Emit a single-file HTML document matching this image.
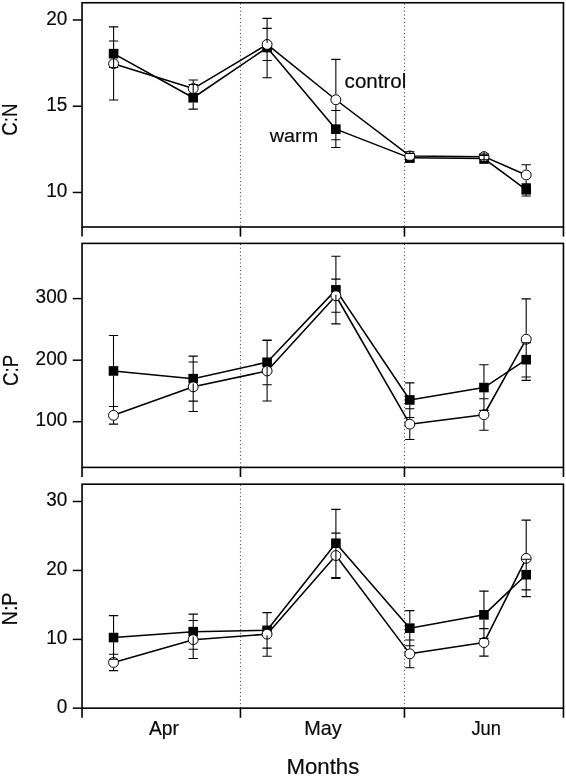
<!DOCTYPE html>
<html lang="en"><head><meta charset="utf-8"><title>Stoichiometry ratios by month</title>
<style>html,body{margin:0;padding:0;background:#fff}body{width:566px;height:776px;overflow:hidden}svg{display:block;will-change:transform}text{font-family:"Liberation Sans",sans-serif;fill:#0a0a0a;stroke:#0a0a0a;stroke-width:0.18px}</style>
</head><body>
<svg width="566" height="776" viewBox="0 0 566 776">
<rect width="566" height="776" fill="#fff"/>
<g>
<line x1="240.45" y1="3.35" x2="240.45" y2="227" stroke="#444" stroke-width="1" stroke-dasharray="1.1 2.6" stroke-dashoffset="0"/>
<line x1="404.45" y1="3.35" x2="404.45" y2="227" stroke="#444" stroke-width="1" stroke-dasharray="1.1 2.6" stroke-dashoffset="0"/>
<rect x="82.05" y="2.75" width="481.4" height="224.25" fill="none" stroke="#000" stroke-width="1.6"/>
<line x1="82.05" y1="227" x2="82.05" y2="236.6" stroke="#000" stroke-width="1.6"/>
<line x1="240.45" y1="227" x2="240.45" y2="236.6" stroke="#000" stroke-width="1.6"/>
<line x1="404.45" y1="227" x2="404.45" y2="236.6" stroke="#000" stroke-width="1.6"/>
<line x1="563.45" y1="227" x2="563.45" y2="236.6" stroke="#000" stroke-width="1.6"/>
<line x1="72.75" y1="19.98" x2="82.05" y2="19.98" stroke="#000" stroke-width="1.5"/>
<text x="67.3" y="24.73" font-size="19.6" text-anchor="end" transform="translate(67.3 0) scale(0.97 1) translate(-67.3 0)">20</text>
<line x1="72.75" y1="106.22" x2="82.05" y2="106.22" stroke="#000" stroke-width="1.5"/>
<text x="67.3" y="110.97" font-size="19.6" text-anchor="end" transform="translate(67.3 0) scale(0.97 1) translate(-67.3 0)">15</text>
<line x1="72.75" y1="192.46" x2="82.05" y2="192.46" stroke="#000" stroke-width="1.5"/>
<text x="67.3" y="197.21" font-size="19.6" text-anchor="end" transform="translate(67.3 0) scale(0.97 1) translate(-67.3 0)">10</text>
<polyline fill="none" stroke="#000" stroke-width="1.55" stroke-linejoin="round" points="113.6,53.65 193.2,97.75 267.1,47.55 335.85,129.15 409.8,157.85 484.05,158.55 526.2,189.8"/>
<polyline fill="none" stroke="#000" stroke-width="1.55" stroke-linejoin="round" points="113.6,63.7 193.2,88.55 267.1,44.45 335.85,99.75 409.8,155.95 484.05,156.65 526.2,174.95"/>
<rect x="108.8" y="48.85" width="9.6" height="9.6" fill="#000"/>
<rect x="188.4" y="92.95" width="9.6" height="9.6" fill="#000"/>
<rect x="262.3" y="42.75" width="9.6" height="9.6" fill="#000"/>
<rect x="331.05" y="124.35" width="9.6" height="9.6" fill="#000"/>
<rect x="405" y="153.05" width="9.6" height="9.6" fill="#000"/>
<rect x="479.25" y="153.75" width="9.6" height="9.6" fill="#000"/>
<rect x="521.4" y="185" width="9.6" height="9.6" fill="#000"/>
<circle cx="113.6" cy="63.7" r="4.95" fill="#fff" stroke="#000" stroke-width="1"/>
<circle cx="193.2" cy="88.55" r="4.95" fill="#fff" stroke="#000" stroke-width="1"/>
<circle cx="267.1" cy="44.45" r="4.95" fill="#fff" stroke="#000" stroke-width="1"/>
<circle cx="335.85" cy="99.75" r="4.95" fill="#fff" stroke="#000" stroke-width="1"/>
<circle cx="409.8" cy="155.95" r="4.95" fill="#fff" stroke="#000" stroke-width="1"/>
<circle cx="484.05" cy="156.65" r="4.95" fill="#fff" stroke="#000" stroke-width="1"/>
<circle cx="526.2" cy="174.95" r="4.95" fill="#fff" stroke="#000" stroke-width="1"/>
<path d="M113.6 48.85V41.05M113.6 58.45V67.55M108.95 41.05H118.25M108.95 67.55H118.25M113.6 58.25V26.85M113.6 69.15V99.95M108.95 26.85H118.25M108.95 99.95H118.25M193.2 92.95V84.45M193.2 102.55V109.15M188.55 84.45H197.85M188.55 109.15H197.85M193.2 83.1V79.95M193.2 94V97.15M188.55 79.95H197.85M188.55 97.15H197.85M267.1 42.75V18.35M267.1 52.35V77.75M262.45 18.35H271.75M262.45 77.75H271.75M267.1 39V28.35M267.1 49.9V60.45M262.45 28.35H271.75M262.45 60.45H271.75M335.85 124.35V110.45M335.85 133.95V147.55M331.2 110.45H340.5M331.2 147.55H340.5M335.85 94.3V59.35M335.85 105.2V139.75M331.2 59.35H340.5M331.2 139.75H340.5M405.15 153.45H414.45M405.15 162.25H414.45M405.15 151.75H414.45M405.15 160.25H414.45M479.4 155.55H488.7M479.4 163.25H488.7M479.4 154.15H488.7M479.4 159.75H488.7M526.2 185V183.85M526.2 194.6V196.05M521.55 183.85H530.85M521.55 196.05H530.85M526.2 169.5V164.75M526.2 180.4V185.05M521.55 164.75H530.85M521.55 185.05H530.85M484.05 151.6V161.4M409.8 152V154" fill="none" stroke="#000" stroke-width="1.08"/>
<text font-size="21.8" text-anchor="middle" transform="translate(17.3 119.7) rotate(-90) scale(0.86 1)">C:N</text>
</g>
<g>
<line x1="240.45" y1="244" x2="240.45" y2="467.4" stroke="#444" stroke-width="1" stroke-dasharray="1.1 2.6" stroke-dashoffset="0"/>
<line x1="404.45" y1="244" x2="404.45" y2="467.4" stroke="#444" stroke-width="1" stroke-dasharray="1.1 2.6" stroke-dashoffset="0"/>
<rect x="82.05" y="243.4" width="481.4" height="224" fill="none" stroke="#000" stroke-width="1.6"/>
<line x1="82.05" y1="467.4" x2="82.05" y2="477" stroke="#000" stroke-width="1.6"/>
<line x1="240.45" y1="467.4" x2="240.45" y2="477" stroke="#000" stroke-width="1.6"/>
<line x1="404.45" y1="467.4" x2="404.45" y2="477" stroke="#000" stroke-width="1.6"/>
<line x1="563.45" y1="467.4" x2="563.45" y2="477" stroke="#000" stroke-width="1.6"/>
<line x1="72.75" y1="298.6" x2="82.05" y2="298.6" stroke="#000" stroke-width="1.5"/>
<text x="67.3" y="303.35" font-size="19.6" text-anchor="end" transform="translate(67.3 0) scale(0.97 1) translate(-67.3 0)">300</text>
<line x1="72.75" y1="360.2" x2="82.05" y2="360.2" stroke="#000" stroke-width="1.5"/>
<text x="67.3" y="364.95" font-size="19.6" text-anchor="end" transform="translate(67.3 0) scale(0.97 1) translate(-67.3 0)">200</text>
<line x1="72.75" y1="421.7" x2="82.05" y2="421.7" stroke="#000" stroke-width="1.5"/>
<text x="67.3" y="426.45" font-size="19.6" text-anchor="end" transform="translate(67.3 0) scale(0.97 1) translate(-67.3 0)">100</text>
<polyline fill="none" stroke="#000" stroke-width="1.55" stroke-linejoin="round" points="113.5,370.95 193.2,378.65 267.1,362.25 335.9,289.85 409.8,399.95 483.95,387.55 526.2,359.65"/>
<polyline fill="none" stroke="#000" stroke-width="1.55" stroke-linejoin="round" points="113.5,415.35 193.2,386.85 267.1,370.95 335.9,295.75 409.8,424.15 483.95,414.75 526.2,339.25"/>
<rect x="108.7" y="366.15" width="9.6" height="9.6" fill="#000"/>
<rect x="188.4" y="373.85" width="9.6" height="9.6" fill="#000"/>
<rect x="262.3" y="357.45" width="9.6" height="9.6" fill="#000"/>
<rect x="331.1" y="285.05" width="9.6" height="9.6" fill="#000"/>
<rect x="405" y="395.15" width="9.6" height="9.6" fill="#000"/>
<rect x="479.15" y="382.75" width="9.6" height="9.6" fill="#000"/>
<rect x="521.4" y="354.85" width="9.6" height="9.6" fill="#000"/>
<circle cx="113.5" cy="415.35" r="4.95" fill="#fff" stroke="#000" stroke-width="1"/>
<circle cx="193.2" cy="386.85" r="4.95" fill="#fff" stroke="#000" stroke-width="1"/>
<circle cx="267.1" cy="370.95" r="4.95" fill="#fff" stroke="#000" stroke-width="1"/>
<circle cx="335.9" cy="295.75" r="4.95" fill="#fff" stroke="#000" stroke-width="1"/>
<circle cx="409.8" cy="424.15" r="4.95" fill="#fff" stroke="#000" stroke-width="1"/>
<circle cx="483.95" cy="414.75" r="4.95" fill="#fff" stroke="#000" stroke-width="1"/>
<circle cx="526.2" cy="339.25" r="4.95" fill="#fff" stroke="#000" stroke-width="1"/>
<path d="M113.5 366.15V335.45M113.5 375.75V406.55M108.85 335.45H118.15M108.85 406.55H118.15M113.5 409.9V406.55M113.5 420.8V424.15M108.85 406.55H118.15M108.85 424.15H118.15M193.2 373.85V356.15M193.2 383.45V401.15M188.55 356.15H197.85M188.55 401.15H197.85M193.2 381.4V362.05M193.2 392.3V411.55M188.55 362.05H197.85M188.55 411.55H197.85M267.1 357.45V340.15M267.1 367.05V384.75M262.45 340.15H271.75M262.45 384.75H271.75M267.1 365.5V340.55M267.1 376.4V401.05M262.45 340.55H271.75M262.45 401.05H271.75M335.9 285.05V256.25M335.9 294.65V323.9M331.25 256.25H340.55M331.25 323.9H340.55M335.9 290.3V279.15M335.9 301.2V312.3M331.25 279.15H340.55M331.25 312.3H340.55M409.8 395.15V382.85M409.8 404.75V417.45M405.15 382.85H414.45M405.15 417.45H414.45M409.8 418.7V408.75M409.8 429.6V439.5M405.15 408.75H414.45M405.15 439.5H414.45M483.95 382.75V364.75M483.95 392.35V410.35M479.3 364.75H488.6M479.3 410.35H488.6M483.95 409.3V398.75M483.95 420.2V430.3M479.3 398.75H488.6M479.3 430.3H488.6M526.2 354.85V342.75M526.2 364.45V376.95M521.55 342.75H530.85M521.55 376.95H530.85M526.2 333.8V298.85M526.2 344.7V380.35M521.55 298.85H530.85M521.55 380.35H530.85" fill="none" stroke="#000" stroke-width="1.08"/>
<text font-size="21.8" text-anchor="middle" transform="translate(18 370.4) rotate(-90) scale(0.86 1)">C:P</text>
</g>
<g>
<line x1="240.45" y1="484.8" x2="240.45" y2="708.15" stroke="#444" stroke-width="1" stroke-dasharray="1.1 2.6" stroke-dashoffset="0"/>
<line x1="404.45" y1="484.8" x2="404.45" y2="708.15" stroke="#444" stroke-width="1" stroke-dasharray="1.1 2.6" stroke-dashoffset="0"/>
<rect x="82.05" y="484.2" width="481.4" height="223.95" fill="none" stroke="#000" stroke-width="1.6"/>
<line x1="82.05" y1="708.15" x2="82.05" y2="717.75" stroke="#000" stroke-width="1.6"/>
<line x1="240.45" y1="708.15" x2="240.45" y2="717.75" stroke="#000" stroke-width="1.6"/>
<line x1="404.45" y1="708.15" x2="404.45" y2="717.75" stroke="#000" stroke-width="1.6"/>
<line x1="563.45" y1="708.15" x2="563.45" y2="717.75" stroke="#000" stroke-width="1.6"/>
<line x1="72.75" y1="501.5" x2="82.05" y2="501.5" stroke="#000" stroke-width="1.5"/>
<text x="67.3" y="506.25" font-size="19.6" text-anchor="end" transform="translate(67.3 0) scale(0.97 1) translate(-67.3 0)">30</text>
<line x1="72.75" y1="570.45" x2="82.05" y2="570.45" stroke="#000" stroke-width="1.5"/>
<text x="67.3" y="575.2" font-size="19.6" text-anchor="end" transform="translate(67.3 0) scale(0.97 1) translate(-67.3 0)">20</text>
<line x1="72.75" y1="639.4" x2="82.05" y2="639.4" stroke="#000" stroke-width="1.5"/>
<text x="67.3" y="644.15" font-size="19.6" text-anchor="end" transform="translate(67.3 0) scale(0.97 1) translate(-67.3 0)">10</text>
<line x1="72.75" y1="708.15" x2="82.05" y2="708.15" stroke="#000" stroke-width="1.5"/>
<text x="67.3" y="712.9" font-size="19.6" text-anchor="end" transform="translate(67.3 0) scale(0.97 1) translate(-67.3 0)">0</text>
<polyline fill="none" stroke="#000" stroke-width="1.55" stroke-linejoin="round" points="113.55,637.55 193.2,631.65 267.06,630.35 335.9,543.25 409.8,628.15 483.95,614.85 526.2,574.7"/>
<polyline fill="none" stroke="#000" stroke-width="1.55" stroke-linejoin="round" points="113.55,662.45 193.2,639.65 267.06,634.15 335.9,555.55 409.8,653.85 483.95,642.55 526.2,558.4"/>
<rect x="108.75" y="632.75" width="9.6" height="9.6" fill="#000"/>
<rect x="188.4" y="626.85" width="9.6" height="9.6" fill="#000"/>
<rect x="262.26" y="625.55" width="9.6" height="9.6" fill="#000"/>
<rect x="331.1" y="538.45" width="9.6" height="9.6" fill="#000"/>
<rect x="405" y="623.35" width="9.6" height="9.6" fill="#000"/>
<rect x="479.15" y="610.05" width="9.6" height="9.6" fill="#000"/>
<rect x="521.4" y="569.9" width="9.6" height="9.6" fill="#000"/>
<circle cx="113.55" cy="662.45" r="4.95" fill="#fff" stroke="#000" stroke-width="1"/>
<circle cx="193.2" cy="639.65" r="4.95" fill="#fff" stroke="#000" stroke-width="1"/>
<circle cx="267.06" cy="634.15" r="4.95" fill="#fff" stroke="#000" stroke-width="1"/>
<circle cx="335.9" cy="555.55" r="4.95" fill="#fff" stroke="#000" stroke-width="1"/>
<circle cx="409.8" cy="653.85" r="4.95" fill="#fff" stroke="#000" stroke-width="1"/>
<circle cx="483.95" cy="642.55" r="4.95" fill="#fff" stroke="#000" stroke-width="1"/>
<circle cx="526.2" cy="558.4" r="4.95" fill="#fff" stroke="#000" stroke-width="1"/>
<path d="M113.55 632.75V615.65M113.55 642.35V659.25M108.9 615.65H118.2M108.9 659.25H118.2M113.55 657V654.3M113.55 667.9V670.65M108.9 654.3H118.2M108.9 670.65H118.2M193.2 626.85V614.15M193.2 636.45V649.2M188.55 614.15H197.85M188.55 649.2H197.85M193.2 634.2V620.55M193.2 645.1V658.45M188.55 620.55H197.85M188.55 658.45H197.85M267.06 625.55V612.75M267.06 635.15V648.15M262.41 612.75H271.71M262.41 648.15H271.71M267.06 628.7V612.45M267.06 639.6V656.25M262.41 612.45H271.71M262.41 656.25H271.71M335.9 538.45V509.4M335.9 548.05V577.45M331.25 509.4H340.55M331.25 577.45H340.55M335.9 550.1V533.15M335.9 561V578.45M331.25 533.15H340.55M331.25 578.45H340.55M409.8 623.35V610.65M409.8 632.95V645.75M405.15 610.65H414.45M405.15 645.75H414.45M409.8 648.4V639.95M409.8 659.3V667.75M405.15 639.95H414.45M405.15 667.75H414.45M483.95 610.05V591.15M483.95 619.65V638.55M479.3 591.15H488.6M479.3 638.55H488.6M483.95 637.1V628.65M483.95 648V656.15M479.3 628.65H488.6M479.3 656.15H488.6M526.2 569.9V559.25M526.2 579.5V589.85M521.55 559.25H530.85M521.55 589.85H530.85M526.2 552.95V520.15M526.2 563.85V596.65M521.55 520.15H530.85M521.55 596.65H530.85" fill="none" stroke="#000" stroke-width="1.08"/>
<text font-size="21.8" text-anchor="middle" transform="translate(17.2 608.9) rotate(-90) scale(0.9 1)">N:P</text>
</g>
<text x="344.6" y="87.75" font-size="19.3" transform="translate(344.6 0) scale(1.067 1) translate(-344.6 0)">control</text>
<text x="269.8" y="141.95" font-size="18.6" transform="translate(269.8 0) scale(1.065 1) translate(-269.8 0)">warm</text>
<text x="164" y="734.9" font-size="19.5" text-anchor="middle" transform="translate(164 0) scale(0.99 1) translate(-164 0)">Apr</text>
<text x="323" y="734.9" font-size="19.5" text-anchor="middle" transform="translate(323 0) scale(1.02 1) translate(-323 0)">May</text>
<text x="486.2" y="734.9" font-size="19.5" text-anchor="middle" transform="translate(486.2 0) scale(0.94 1) translate(-486.2 0)">Jun</text>
<text x="322.9" y="774.2" font-size="21.2" text-anchor="middle" transform="translate(322.9 0) scale(1.05 1) translate(-322.9 0)">Months</text>
</svg></body></html>
